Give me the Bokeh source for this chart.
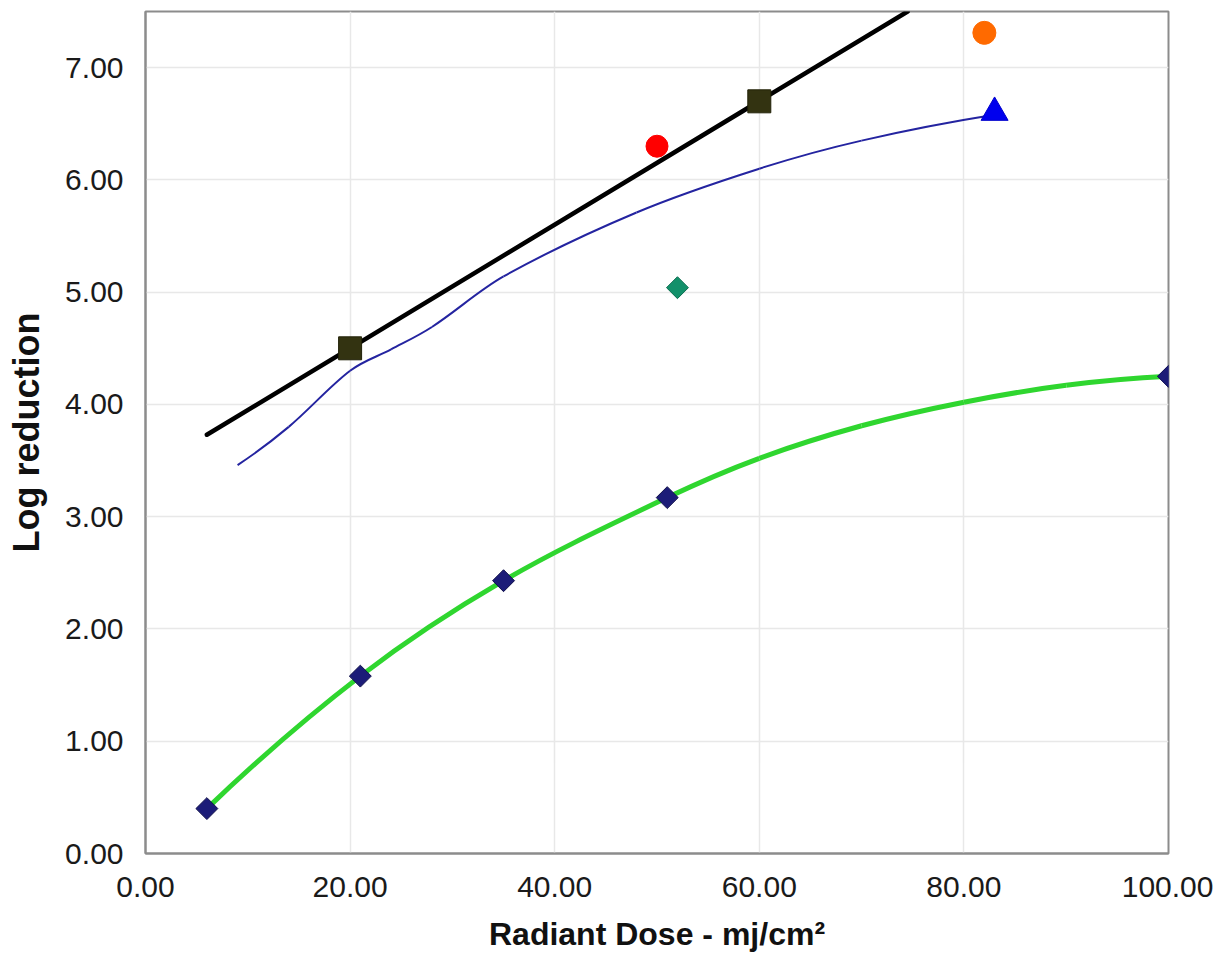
import numpy as np
from bokeh.plotting import figure
from bokeh.models import Range1d, FixedTicker, PrintfTickFormatter, PolyAnnotation
from bokeh.embed import file_html
from bokeh.resources import INLINE

# ---- data ----
x_ticks = [0, 20, 40, 60, 80, 100]
y_ticks = [0, 1, 2, 3, 4, 5, 6, 7]
x_title = "Radiant Dose - mj/cm²"
y_title = "Log reduction"

# measured series (navy diamonds)
dose_main = [6, 21, 35, 51, 100]
log_main = [0.40, 1.58, 2.43, 3.17, 4.25]

# green fitted curve
green_x = [6, 21, 35, 51, 60, 70, 80, 90, 100]
green_y = [0.40, 1.58, 2.43, 3.17, 3.52, 3.81, 4.02, 4.17, 4.25]

# black squares and their straight trend line (visible ends)
square_x = [20, 60]
square_y = [4.50, 6.70]
trend_x = [6, 74.5]
trend_y = [3.73, 7.50]

# thin blue curve ending at the blue triangle
blue_x = [9, 14, 20, 24, 28, 35, 48, 60, 70, 83]
blue_y = [3.46, 3.80, 4.30, 4.49, 4.69, 5.14, 5.71, 6.10, 6.35, 6.58]
tri_x = [83]
tri_y = [6.60]

red_x = [50]
red_y = [6.30]
orange_x = [82]
orange_y = [7.31]
teal_x = [52]
teal_y = [5.04]

FONT = "Liberation Sans"


def smooth(xs, ys):
    """Smoothed line drawn as cubic Bezier segments through the given points."""
    n = len(xs)
    m = [None] * n
    for i in range(1, n - 1):
        m[i] = (ys[i + 1] - ys[i - 1]) / (xs[i + 1] - xs[i - 1])
    s0 = (ys[1] - ys[0]) / (xs[1] - xs[0])
    s1 = (ys[-1] - ys[-2]) / (xs[-1] - xs[-2])
    m[0] = 2 * s0 - m[1] if n > 2 else s0
    m[-1] = 2 * s1 - m[-2] if n > 2 else s1
    d = dict(x0=[], y0=[], x1=[], y1=[], cx0=[], cy0=[], cx1=[], cy1=[])
    for i in range(n - 1):
        h = (xs[i + 1] - xs[i]) / 3.0
        d["x0"].append(xs[i]); d["y0"].append(ys[i])
        d["x1"].append(xs[i + 1]); d["y1"].append(ys[i + 1])
        d["cx0"].append(xs[i] + h); d["cy0"].append(ys[i] + m[i] * h)
        d["cx1"].append(xs[i + 1] - h); d["cy1"].append(ys[i + 1] - m[i + 1] * h)
    return d


X_END, Y_END = 100, 7.5
FRAME_L, FRAME_R, FRAME_T, FRAME_B = 145, 1168, 11, 854
p = figure(width=1213, height=954, x_range=Range1d(0, X_END), y_range=Range1d(0, Y_END),
           output_backend="svg", toolbar_location=None,
           min_border_left=FRAME_L, min_border_right=1213 - FRAME_R,
           min_border_top=FRAME_T, min_border_bottom=954 - FRAME_B)

p.background_fill_color = "white"
p.border_fill_color = "white"
p.outline_line_color = "#8c8c8c"
p.outline_line_width = 2

p.xaxis.ticker = FixedTicker(ticks=x_ticks)
p.yaxis.ticker = FixedTicker(ticks=y_ticks)
for ax in (p.xaxis[0], p.yaxis[0]):
    ax.formatter = PrintfTickFormatter(format="%.2f")
    ax.axis_line_color = "#8c8c8c"
    ax.axis_line_width = 2
    ax.major_tick_line_color = None
    ax.minor_tick_line_color = None
    ax.major_tick_out = 0
    ax.major_tick_in = 0
    ax.minor_tick_out = 0
    ax.minor_tick_in = 0
    ax.major_label_text_font = FONT
    ax.major_label_text_font_size = "30px"
    ax.major_label_text_color = "#1a1a1a"
    ax.axis_label_text_font = FONT
    ax.axis_label_text_font_style = "bold"
    ax.axis_label_text_color = "#111111"

p.xaxis.axis_label = x_title
p.yaxis.axis_label = y_title
p.xaxis.axis_label_text_font_size = "32px"
p.yaxis.axis_label_text_font_size = "36px"
p.xaxis.major_label_standoff = 23
p.yaxis.major_label_standoff = 22
p.xaxis.axis_label_standoff = 16
p.yaxis.axis_label_standoff = 15

p.xgrid.ticker = FixedTicker(ticks=x_ticks)
p.ygrid.ticker = FixedTicker(ticks=y_ticks)
p.grid.grid_line_color = "#e8e8e8"
p.grid.grid_line_width = 1.5

# black linear trend line
p.line(trend_x, trend_y, line_color="black", line_width=4.5, line_cap="round")

# thin blue smoothed curve
bd = smooth(blue_x, blue_y)
p.bezier(x0=bd["x0"], y0=bd["y0"], x1=bd["x1"], y1=bd["y1"],
         cx0=bd["cx0"], cy0=bd["cy0"], cx1=bd["cx1"], cy1=bd["cy1"],
         line_color="#2424a0", line_width=2)

# green smoothed curve
gd = smooth(green_x, green_y)
p.bezier(x0=gd["x0"], y0=gd["y0"], x1=gd["x1"], y1=gd["y1"],
         cx0=gd["cx0"], cy0=gd["cy0"], cx1=gd["cx1"], cy1=gd["cy1"],
         line_color="#2fd62f", line_width=5)

# markers
NAVY, NAVY_EDGE = "#1c1c78", "#0f0f4a"
p.scatter(dose_main, log_main, marker="square", size=15.5, angle=np.pi / 4,
          fill_color=NAVY, line_color=NAVY_EDGE, line_width=1)
# a point lying on the frame edge would be clipped: redraw it unclipped
px_per_x = (FRAME_R - FRAME_L) / X_END
px_per_y = (FRAME_B - FRAME_T) / Y_END
hw, hh = 11 / px_per_x, 11 / px_per_y
for xv, yv in zip(dose_main, log_main):
    if xv >= X_END:
        p.add_layout(PolyAnnotation(xs=[xv - hw, xv, xv + hw, xv], ys=[yv, yv + hh, yv, yv - hh],
                                    fill_color=NAVY, fill_alpha=1.0,
                                    line_color=NAVY_EDGE, line_width=1))

p.scatter(square_x, square_y, marker="square", size=23,
          fill_color="#333311", line_color="#222208", line_width=1)
p.scatter(tri_x, tri_y, marker="triangle", size=27,
          fill_color="#0000ee", line_color="#0000cc", line_width=1)
p.scatter(red_x, red_y, marker="circle", size=22,
          fill_color="#ff0000", line_color="#ff0000")
p.scatter(orange_x, orange_y, marker="circle", size=23,
          fill_color="#ff6a00", line_color="#ff6a00")
p.scatter(teal_x, teal_y, marker="square", size=15.5, angle=np.pi / 4,
          fill_color="#12906a", line_color="#0c6e50", line_width=1)

open("out.html", "w").write(file_html(p, INLINE))
